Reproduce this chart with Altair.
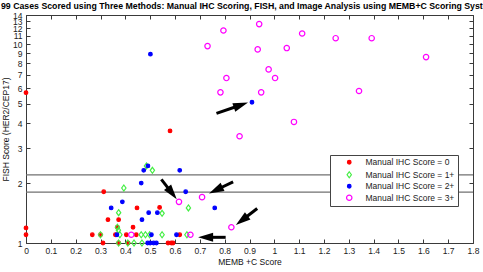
import math
import altair as alt
import pandas as pd

TITLE = ("99 Cases Scored using Three Methods: Manual IHC Scoring, FISH, "
         "and Image Analysis using MEMB+C Scoring System")
X_TITLE = "MEMB +C Score"
Y_TITLE = "FISH Score (HER2/CEP17)"
CATS = ["Manual IHC Score = 0", "Manual IHC Score = 1+",
        "Manual IHC Score = 2+", "Manual IHC Score = 3+"]
COLORS = ["#ff0000", "#44ee44", "#0000ff", "#ff00ff"]
X_TICKS = [0, 0.1, 0.2, 0.3, 0.4, 0.5, 0.6, 0.7, 0.8, 0.9, 1.0,
           1.1, 1.2, 1.3, 1.4, 1.5, 1.6, 1.7, 1.8]
Y_TICKS = [1, 2, 3, 4, 5, 6, 7, 8, 9, 10, 11, 12, 13, 14]
THRESHOLDS = [1.8, 2.2]

# Manual IHC score 0 (red dots)
ihc0_x = [0.0, 0.0, 0.0, 0.580, 0.313, 0.330, 0.373, 0.447, 0.538, 0.431,
          0.368, 0.267, 0.300, 0.360, 0.404, 0.444, 0.619, 0.310, 0.373,
          0.411, 0.572, 0.585, 0.592]
ihc0_y = [5.7, 1.19, 1.10, 3.66, 1.81, 1.31, 1.31, 1.50, 1.51, 1.20,
          1.20, 1.10, 1.10, 1.10, 1.10, 1.10, 1.10, 1.0, 1.0,
          1.0, 1.0, 1.0, 1.0]
# Manual IHC score 1+ (green diamonds)
ihc1_x = [0.485, 0.509, 0.394, 0.373, 0.548, 0.654, 0.368, 0.372, 0.300,
          0.378, 0.464, 0.481, 0.498, 0.548, 0.648, 0.373, 0.410, 0.435, 0.467]
ihc1_y = [2.44, 2.32, 1.89, 1.42, 1.41, 1.50, 1.20, 1.16, 1.10,
          1.10, 1.10, 1.10, 1.10, 1.10, 1.10, 1.0, 1.0, 1.0, 1.0]
# Manual IHC score 2+ (blue dots)
ihc2_x = [0.910, 0.501, 0.474, 0.491, 0.619, 0.464, 0.643, 0.388, 0.343,
          0.760, 0.494, 0.529, 0.467, 0.366, 0.505, 0.606, 0.490, 0.500,
          0.514, 0.525]
ihc2_y = [5.1, 8.9, 2.32, 2.44, 2.32, 2.0, 1.81, 1.61, 1.50,
          1.50, 1.42, 1.42, 1.31, 1.10, 1.10, 1.10, 1.0, 1.0,
          1.0, 1.0]
# Manual IHC score 3+ (magenta circles)
ihc3_x = [0.731, 0.795, 0.939, 0.933, 1.112, 1.050, 1.247, 1.392, 1.611,
          0.977, 0.807, 1.003, 0.783, 0.947, 1.341, 1.079, 0.860, 0.616,
          0.709, 0.827, 0.662, 0.424]
ihc3_y = [9.77, 11.7, 12.6, 9.4, 11.3, 9.55, 10.7, 10.7, 8.6,
          7.46, 6.75, 6.75, 5.72, 5.72, 5.81, 4.06, 3.44, 1.61,
          1.70, 1.20, 1.10, 1.10]

# annotation arrows: tail -> tip (data units)
arrow_x0 = [0.767, 0.545, 0.834, 0.931, 0.804]
arrow_y0 = [4.48, 2.09, 2.03, 1.49, 1.068]
arrow_x1 = [0.894, 0.607, 0.737, 0.845, 0.693]
arrow_y1 = [5.08, 1.66, 1.776, 1.231, 1.068]

W, H = 447, 228
XMAX = 1.8
YMIN, YMAX = 1, 14
LOGR = math.log10(YMAX) - math.log10(YMIN)


def to_px(x, v):
    return x / XMAX * W, H - (math.log10(v) - math.log10(YMIN)) / LOGR * H


def from_px(px, py):
    return px * XMAX / W, 10 ** ((H - py) / H * LOGR + math.log10(YMIN))


rows = []
for cat, xs, ys in zip(CATS, [ihc0_x, ihc1_x, ihc2_x, ihc3_x],
                       [ihc0_y, ihc1_y, ihc2_y, ihc3_y]):
    for a, b in zip(xs, ys):
        rows.append({"memb": a, "fish": b, "ihc": cat})
df = pd.DataFrame(rows)

HEAD = 15.0
arows = []
for a0, b0, a1, b1 in zip(arrow_x0, arrow_y0, arrow_x1, arrow_y1):
    p0 = to_px(a0, b0)
    p1 = to_px(a1, b1)
    dx, dy = p1[0] - p0[0], p1[1] - p0[1]
    n = math.hypot(dx, dy)
    ux, uy = dx / n, dy / n
    sx, sy = from_px(p1[0] - ux * HEAD * 0.6, p1[1] - uy * HEAD * 0.6)
    ang = math.degrees(math.atan2(ux, -uy)) % 360
    arows.append({"x0": a0, "y0": b0, "xs": sx, "ys": sy,
                  "xt": a1, "yt": b1, "ang": ang})
adf = pd.DataFrame(arows)
rdf = pd.DataFrame({"thr": THRESHOLDS})

FONT = "Liberation Sans"
AX = "#3a3a3a"
xs_ = alt.Scale(domain=[0, XMAX], nice=False, zero=False)
ys_ = alt.Scale(type="log", domain=[YMIN, YMAX], nice=False)

common = dict(grid=False, labelFont=FONT, titleFont=FONT, labelFontSize=8.5,
              titleFontSize=8.5, labelColor="#222222", titleColor="#111111",
              domainColor=AX, tickColor=AX, labelFlush=False,
              labelOverlap=False, titleFontWeight="normal")
tick_only = dict(grid=False, labels=False, domain=False, ticks=True,
                 tickSize=4, tickColor=AX, title=None)

x_axA = alt.Axis(orient="bottom", values=X_TICKS, format="~g", ticks=False,
                 labelPadding=3, title=X_TITLE, titlePadding=3, **common)
y_axA = alt.Axis(orient="left", values=Y_TICKS, format="d", ticks=False,
                 labelPadding=4, title=Y_TITLE, titlePadding=2, **common)
x_axB = alt.Axis(orient="top", offset=-H, values=X_TICKS, **tick_only)
y_axB = alt.Axis(orient="right", offset=-W, values=Y_TICKS, **tick_only)
x_axC = alt.Axis(orient="bottom", offset=-H, values=X_TICKS, grid=False,
                 labels=False, domain=True, domainColor=AX, ticks=True,
                 tickSize=4, tickColor=AX, title=None)
y_axC = alt.Axis(orient="left", offset=-W, values=Y_TICKS, grid=False,
                 labels=False, domain=True, domainColor=AX, ticks=True,
                 tickSize=4, tickColor=AX, title=None)

DOT = "M0,-0.6A0.6,0.6,0,1,1,0,0.6A0.6,0.6,0,1,1,0,-0.6Z"
DIAM = "M0,-1L0.72,0L0,1L-0.72,0Z"
RING = "M0,-0.9A0.9,0.9,0,1,1,0,0.9A0.9,0.9,0,1,1,0,-0.9Z"
ARROW = "M0,0L-0.3,1L0.3,1Z"

leg = alt.Legend(title=None, orient="none", legendX=304, legendY=140,
                 padding=3, symbolOffset=12, labelOffset=12, rowPadding=1.5,
                 strokeColor="#444444", fillColor="white", labelFont=FONT,
                 labelFontSize=8.5, labelColor="#222222", symbolSize=36,
                 symbolStrokeWidth=1.2, labelExpr="datum.label + ' '")

refs = alt.Chart(rdf).mark_rule(color="#707070", strokeWidth=1.3).encode(
    y=alt.Y("thr:Q", scale=ys_, axis=None))

axB = alt.Chart(df).mark_point(opacity=0).encode(
    x=alt.X("memb:Q", scale=xs_, axis=x_axB),
    y=alt.Y("fish:Q", scale=ys_, axis=y_axB))
axC = alt.Chart(df).mark_point(opacity=0).encode(
    x=alt.X("memb:Q", scale=xs_, axis=x_axC),
    y=alt.Y("fish:Q", scale=ys_, axis=y_axC))

pts = alt.Chart(df).mark_point(size=36, strokeWidth=1.2, opacity=1,
                               clip=False).encode(
    x=alt.X("memb:Q", scale=xs_, axis=x_axA),
    y=alt.Y("fish:Q", scale=ys_, axis=y_axA),
    fill=alt.Fill("ihc:N", scale=alt.Scale(
        domain=CATS, range=[COLORS[0], "transparent", COLORS[2], "transparent"]),
        legend=leg),
    stroke=alt.Stroke("ihc:N", scale=alt.Scale(domain=CATS, range=COLORS),
                      legend=leg),
    shape=alt.Shape("ihc:N", scale=alt.Scale(
        domain=CATS, range=[DOT, DIAM, DOT, RING]), legend=leg),
)

shafts = alt.Chart(adf).mark_rule(color="black", strokeWidth=3,
                                  strokeCap="butt").encode(
    x=alt.X("x0:Q", scale=xs_, axis=None),
    y=alt.Y("y0:Q", scale=ys_, axis=None),
    x2="xs:Q", y2="ys:Q")
heads = alt.Chart(adf).mark_point(shape=ARROW, size=(2 * HEAD) ** 2,
                                  filled=True, color="black",
                                  opacity=1).encode(
    x=alt.X("xt:Q", scale=xs_, axis=None),
    y=alt.Y("yt:Q", scale=ys_, axis=None),
    angle=alt.Angle("ang:Q", scale=None))

chart = alt.layer(refs, axB, axC, pts, shafts, heads).resolve_axis(
    x="independent", y="independent"
).properties(
    width=W, height=H,
    autosize=alt.AutoSizeParams(type="none"),
    padding={"left": 26, "top": 15, "right": 10, "bottom": 29},
    title=alt.TitleParams(TITLE, anchor="start", frame="group", dx=-25,
                          offset=0, fontSize=8.75, fontWeight="bold",
                          font=FONT, color="black", limit=2000),
).configure_view(stroke=None).configure(background="white")

chart.save("out.html", embed_options={"renderer": "svg", "actions": False})
